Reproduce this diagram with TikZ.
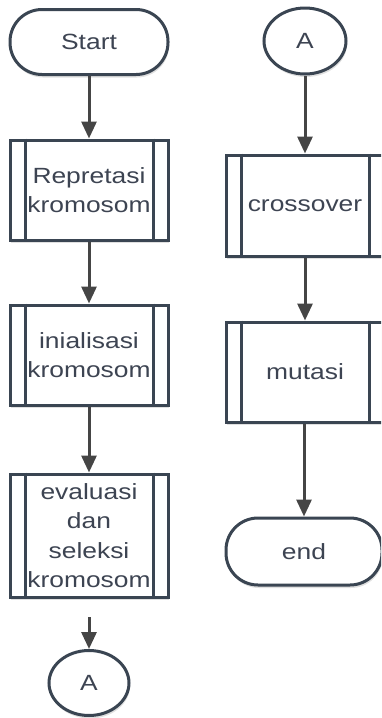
\documentclass[tikz,border=0pt]{standalone}
\usepackage{fontspec}
\setmainfont{Liberation Sans}[FakeStretch=1.2]
\usetikzlibrary{arrows.meta,shadows,shapes.geometric}
\definecolor{bord}{HTML}{3A4552}
\definecolor{txt}{HTML}{3D4452}
\definecolor{arr}{HTML}{454545}
\begin{document}
\begin{tikzpicture}[x=1pt,y=1pt,
  base/.style={draw=bord,line width=3pt,fill=white,text=txt,inner sep=0pt,
    font=\fontsize{22}{29.5}\selectfont,align=center,
    drop shadow={shadow xshift=1pt,shadow yshift=-3pt,opacity=0.12,fill=black}},
  term/.style={base,rectangle,rounded corners=32pt,minimum width=158pt,minimum height=65pt},
  conn/.style={base,ellipse,minimum width=80pt,minimum height=65pt},
  proc/.style={base,rectangle,minimum width=158pt},
  flow/.style={draw=arr,line width=3pt,-{Triangle[width=15pt,length=17pt]}}]
\useasboundingbox (0,0) rectangle (381,-718);
\begin{scope}
\clip (0,0) rectangle (381,-718);
% left column
\node[term] (start) at (89,-42) {Start};
\node[proc,minimum height=100pt] (b1) at (89,-190) {Repretasi\\kromosom};
\node[proc,minimum height=100pt] (b2) at (89,-355) {inialisasi\\kromosom};
\node[proc,minimum height=123pt] (b3) at (89,-535.5) {evaluasi\\dan\\seleksi\\kromosom};
\coordinate (c3) at (89,-617);
\node[conn] (a2) at (89,-683) {A};
% right column
\node[conn,minimum width=82pt,minimum height=66pt] (a1) at (305,-41) {A};
\node[proc,minimum height=101pt] (b4) at (305,-205.5) {crossover};
\node[proc,minimum height=100pt] (b5) at (305,-372) {mutasi};
\node[term,minimum width=156pt,minimum height=67pt] (end) at (304,-551.5) {end};
% inner subroutine lines
\foreach \n in {b1,b2,b3,b4,b5}{
  \draw[draw=bord,line width=3pt] ([xshift=17pt]\n.north west) -- ([xshift=17pt]\n.south west);
  \draw[draw=bord,line width=3pt] ([xshift=-16pt]\n.north east) -- ([xshift=-16pt]\n.south east);
}
% connectors
\draw[flow] (start) -- (b1);
\draw[flow] (b1) -- (b2);
\draw[flow] (b2) -- (b3);
\draw[flow] (c3) -- (a2);
\draw[flow] (a1) -- (b4);
\draw[flow] (b4) -- (b5);
\draw[flow] (b5.south -| end) -- (end);
\end{scope}
\end{tikzpicture}
\end{document}
